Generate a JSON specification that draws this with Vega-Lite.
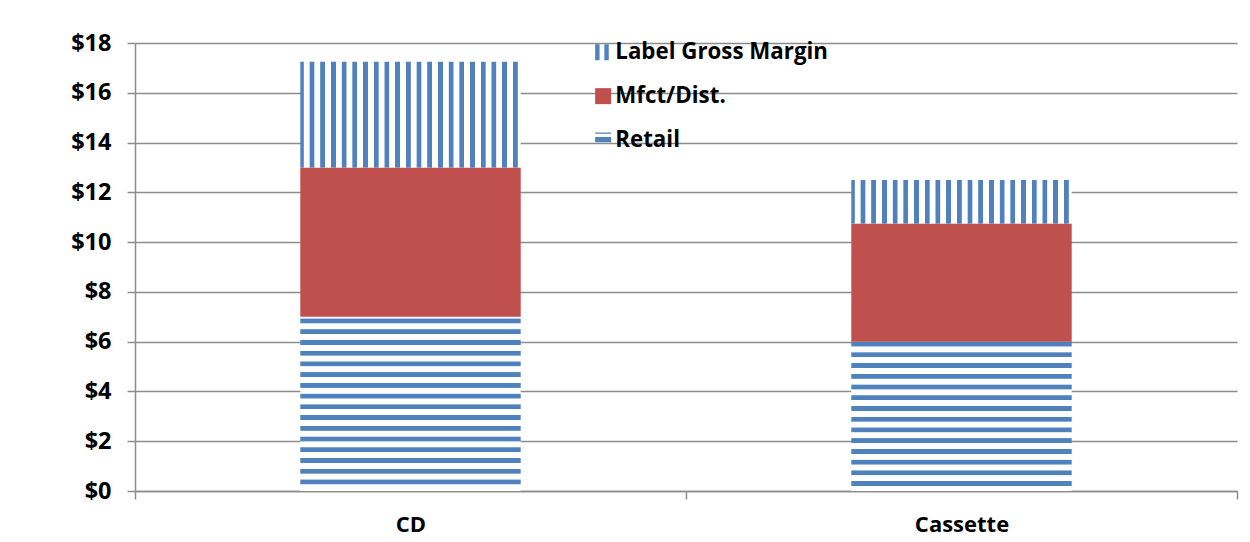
{
  "$schema": "https://vega.github.io/schema/vega-lite/v6.json",
  "width": 1102,
  "height": 448,
  "autosize": {"type": "none"},
  "padding": {"left": 135, "top": 43, "right": 13, "bottom": 51},
  "background": "white",
  "config": {"font": "Open Sans", "view": {"stroke": null}},
  "data": {
    "values": [
      {"product": "CD", "component": "Retail", "value": 7},
      {"product": "CD", "component": "Mfct/Dist.", "value": 6},
      {"product": "CD", "component": "Label Gross Margin", "value": 4.25},
      {"product": "Cassette", "component": "Retail", "value": 6},
      {"product": "Cassette", "component": "Mfct/Dist.", "value": 4.75},
      {"product": "Cassette", "component": "Label Gross Margin", "value": 1.75}
    ]
  },
  "layer": [
    {
      "mark": {"type": "bar", "width": {"band": 0.4}},
      "encoding": {
        "x": {
          "field": "product", "type": "nominal", "sort": ["CD", "Cassette"],
          "scale": {"paddingInner": 0, "paddingOuter": 0},
          "axis": {
            "title": null, "labelAngle": 0, "tickBand": "extent", "tickSize": 8,
            "tickColor": "#8C8C8C", "tickWidth": 1.5, "domainColor": "#8C8C8C", "domainWidth": 1.5,
            "labelFont": "Open Sans", "labelFontSize": 22, "labelFontWeight": "bold", "labelColor": "#000000",
            "labelPadding": 15, "grid": false
          }
        },
        "y": {
          "field": "value", "type": "quantitative", "stack": "zero",
          "scale": {"domain": [0, 18], "nice": false},
          "axis": {
            "title": null, "values": [0, 2, 4, 6, 8, 10, 12, 14, 16, 18], "labelExpr": "'$' + datum.value",
            "grid": true, "gridColor": "#8C8C8C", "gridWidth": 1.5,
            "tickSize": 8, "tickColor": "#8C8C8C", "tickWidth": 1.5,
            "domainColor": "#8C8C8C", "domainWidth": 1.5,
            "labelFont": "Open Sans", "labelFontSize": 23.5, "labelFontWeight": "bold", "labelColor": "#000000",
            "labelPadding": 16
          }
        },
        "detail": {"field": "component", "type": "nominal"},
        "order": {"field": "component", "sort": "descending"},
        "fill": {
          "condition": [
            {
              "test": "datum.component === 'Retail' && datum.product === 'CD'",
              "value": {"gradient": "linear", "x1": 0, "y1": 0, "x2": 0, "y2": 1, "stops": [
                {"offset": 0.0086, "color": "#FFFFFF"}, {"offset": 0.0121, "color": "#4F81BD"}, {"offset": 0.0362, "color": "#4F81BD"}, {"offset": 0.0396, "color": "#FFFFFF"},
                {"offset": 0.0702, "color": "#FFFFFF"}, {"offset": 0.0737, "color": "#4F81BD"}, {"offset": 0.0978, "color": "#4F81BD"}, {"offset": 0.1012, "color": "#FFFFFF"},
                {"offset": 0.1318, "color": "#FFFFFF"}, {"offset": 0.1353, "color": "#4F81BD"}, {"offset": 0.1594, "color": "#4F81BD"}, {"offset": 0.1628, "color": "#FFFFFF"},
                {"offset": 0.1934, "color": "#FFFFFF"}, {"offset": 0.1969, "color": "#4F81BD"}, {"offset": 0.2210, "color": "#4F81BD"}, {"offset": 0.2244, "color": "#FFFFFF"},
                {"offset": 0.2550, "color": "#FFFFFF"}, {"offset": 0.2585, "color": "#4F81BD"}, {"offset": 0.2826, "color": "#4F81BD"}, {"offset": 0.2859, "color": "#FFFFFF"},
                {"offset": 0.3166, "color": "#FFFFFF"}, {"offset": 0.3201, "color": "#4F81BD"}, {"offset": 0.3442, "color": "#4F81BD"}, {"offset": 0.3475, "color": "#FFFFFF"},
                {"offset": 0.3782, "color": "#FFFFFF"}, {"offset": 0.3817, "color": "#4F81BD"}, {"offset": 0.4057, "color": "#4F81BD"}, {"offset": 0.4091, "color": "#FFFFFF"},
                {"offset": 0.4398, "color": "#FFFFFF"}, {"offset": 0.4433, "color": "#4F81BD"}, {"offset": 0.4673, "color": "#4F81BD"}, {"offset": 0.4707, "color": "#FFFFFF"},
                {"offset": 0.5014, "color": "#FFFFFF"}, {"offset": 0.5049, "color": "#4F81BD"}, {"offset": 0.5289, "color": "#4F81BD"}, {"offset": 0.5323, "color": "#FFFFFF"},
                {"offset": 0.5630, "color": "#FFFFFF"}, {"offset": 0.5665, "color": "#4F81BD"}, {"offset": 0.5905, "color": "#4F81BD"}, {"offset": 0.5939, "color": "#FFFFFF"},
                {"offset": 0.6246, "color": "#FFFFFF"}, {"offset": 0.6281, "color": "#4F81BD"}, {"offset": 0.6521, "color": "#4F81BD"}, {"offset": 0.6555, "color": "#FFFFFF"},
                {"offset": 0.6862, "color": "#FFFFFF"}, {"offset": 0.6897, "color": "#4F81BD"}, {"offset": 0.7137, "color": "#4F81BD"}, {"offset": 0.7171, "color": "#FFFFFF"},
                {"offset": 0.7478, "color": "#FFFFFF"}, {"offset": 0.7513, "color": "#4F81BD"}, {"offset": 0.7753, "color": "#4F81BD"}, {"offset": 0.7787, "color": "#FFFFFF"},
                {"offset": 0.8094, "color": "#FFFFFF"}, {"offset": 0.8129, "color": "#4F81BD"}, {"offset": 0.8369, "color": "#4F81BD"}, {"offset": 0.8403, "color": "#FFFFFF"},
                {"offset": 0.8710, "color": "#FFFFFF"}, {"offset": 0.8744, "color": "#4F81BD"}, {"offset": 0.8985, "color": "#4F81BD"}, {"offset": 0.9019, "color": "#FFFFFF"},
                {"offset": 0.9326, "color": "#FFFFFF"}, {"offset": 0.9360, "color": "#4F81BD"}, {"offset": 0.9601, "color": "#4F81BD"}, {"offset": 0.9635, "color": "#FFFFFF"},
                {"offset": 1, "color": "#FFFFFF"}
              ]}
            },
            {
              "test": "datum.component === 'Retail'",
              "value": {"gradient": "linear", "x1": 0, "y1": 0, "x2": 0, "y2": 1, "stops": [
                {"offset": 0, "color": "#4F81BD"}, {"offset": 0.0302, "color": "#4F81BD"}, {"offset": 0.0341, "color": "#FFFFFF"},
                {"offset": 0.0699, "color": "#FFFFFF"}, {"offset": 0.0739, "color": "#4F81BD"}, {"offset": 0.1021, "color": "#4F81BD"}, {"offset": 0.1060, "color": "#FFFFFF"},
                {"offset": 0.1417, "color": "#FFFFFF"}, {"offset": 0.1458, "color": "#4F81BD"}, {"offset": 0.1739, "color": "#4F81BD"}, {"offset": 0.1779, "color": "#FFFFFF"},
                {"offset": 0.2136, "color": "#FFFFFF"}, {"offset": 0.2176, "color": "#4F81BD"}, {"offset": 0.2458, "color": "#4F81BD"}, {"offset": 0.2497, "color": "#FFFFFF"},
                {"offset": 0.2855, "color": "#FFFFFF"}, {"offset": 0.2895, "color": "#4F81BD"}, {"offset": 0.3177, "color": "#4F81BD"}, {"offset": 0.3216, "color": "#FFFFFF"},
                {"offset": 0.3573, "color": "#FFFFFF"}, {"offset": 0.3614, "color": "#4F81BD"}, {"offset": 0.3895, "color": "#4F81BD"}, {"offset": 0.3935, "color": "#FFFFFF"},
                {"offset": 0.4292, "color": "#FFFFFF"}, {"offset": 0.4332, "color": "#4F81BD"}, {"offset": 0.4614, "color": "#4F81BD"}, {"offset": 0.4653, "color": "#FFFFFF"},
                {"offset": 0.5011, "color": "#FFFFFF"}, {"offset": 0.5051, "color": "#4F81BD"}, {"offset": 0.5333, "color": "#4F81BD"}, {"offset": 0.5372, "color": "#FFFFFF"},
                {"offset": 0.5729, "color": "#FFFFFF"}, {"offset": 0.5770, "color": "#4F81BD"}, {"offset": 0.6051, "color": "#4F81BD"}, {"offset": 0.6091, "color": "#FFFFFF"},
                {"offset": 0.6448, "color": "#FFFFFF"}, {"offset": 0.6489, "color": "#4F81BD"}, {"offset": 0.6770, "color": "#4F81BD"}, {"offset": 0.6809, "color": "#FFFFFF"},
                {"offset": 0.7167, "color": "#FFFFFF"}, {"offset": 0.7207, "color": "#4F81BD"}, {"offset": 0.7489, "color": "#4F81BD"}, {"offset": 0.7528, "color": "#FFFFFF"},
                {"offset": 0.7885, "color": "#FFFFFF"}, {"offset": 0.7926, "color": "#4F81BD"}, {"offset": 0.8207, "color": "#4F81BD"}, {"offset": 0.8247, "color": "#FFFFFF"},
                {"offset": 0.8604, "color": "#FFFFFF"}, {"offset": 0.8645, "color": "#4F81BD"}, {"offset": 0.8926, "color": "#4F81BD"}, {"offset": 0.8966, "color": "#FFFFFF"},
                {"offset": 0.9323, "color": "#FFFFFF"}, {"offset": 0.9363, "color": "#4F81BD"}, {"offset": 0.9645, "color": "#4F81BD"}, {"offset": 0.9684, "color": "#FFFFFF"},
                {"offset": 1, "color": "#FFFFFF"}
              ]}
            },
            {
              "test": "datum.component === 'Label Gross Margin'",
              "value": {"gradient": "linear", "x1": 0, "y1": 0, "x2": 1, "y2": 0, "stops": [
                {"offset": 0, "color": "#4F81BD"}, {"offset": 0.0140, "color": "#4F81BD"}, {"offset": 0.0168, "color": "#FFFFFF"},
                {"offset": 0.0408, "color": "#FFFFFF"}, {"offset": 0.0436, "color": "#4F81BD"}, {"offset": 0.0626, "color": "#4F81BD"}, {"offset": 0.0653, "color": "#FFFFFF"},
                {"offset": 0.0894, "color": "#FFFFFF"}, {"offset": 0.0921, "color": "#4F81BD"}, {"offset": 0.1111, "color": "#4F81BD"}, {"offset": 0.1139, "color": "#FFFFFF"},
                {"offset": 0.1379, "color": "#FFFFFF"}, {"offset": 0.1407, "color": "#4F81BD"}, {"offset": 0.1597, "color": "#4F81BD"}, {"offset": 0.1624, "color": "#FFFFFF"},
                {"offset": 0.1865, "color": "#FFFFFF"}, {"offset": 0.1892, "color": "#4F81BD"}, {"offset": 0.2082, "color": "#4F81BD"}, {"offset": 0.2110, "color": "#FFFFFF"},
                {"offset": 0.2350, "color": "#FFFFFF"}, {"offset": 0.2378, "color": "#4F81BD"}, {"offset": 0.2568, "color": "#4F81BD"}, {"offset": 0.2595, "color": "#FFFFFF"},
                {"offset": 0.2836, "color": "#FFFFFF"}, {"offset": 0.2863, "color": "#4F81BD"}, {"offset": 0.3053, "color": "#4F81BD"}, {"offset": 0.3081, "color": "#FFFFFF"},
                {"offset": 0.3321, "color": "#FFFFFF"}, {"offset": 0.3349, "color": "#4F81BD"}, {"offset": 0.3539, "color": "#4F81BD"}, {"offset": 0.3566, "color": "#FFFFFF"},
                {"offset": 0.3807, "color": "#FFFFFF"}, {"offset": 0.3834, "color": "#4F81BD"}, {"offset": 0.4024, "color": "#4F81BD"}, {"offset": 0.4052, "color": "#FFFFFF"},
                {"offset": 0.4292, "color": "#FFFFFF"}, {"offset": 0.4320, "color": "#4F81BD"}, {"offset": 0.4510, "color": "#4F81BD"}, {"offset": 0.4537, "color": "#FFFFFF"},
                {"offset": 0.4778, "color": "#FFFFFF"}, {"offset": 0.4805, "color": "#4F81BD"}, {"offset": 0.4995, "color": "#4F81BD"}, {"offset": 0.5023, "color": "#FFFFFF"},
                {"offset": 0.5263, "color": "#FFFFFF"}, {"offset": 0.5291, "color": "#4F81BD"}, {"offset": 0.5481, "color": "#4F81BD"}, {"offset": 0.5508, "color": "#FFFFFF"},
                {"offset": 0.5749, "color": "#FFFFFF"}, {"offset": 0.5776, "color": "#4F81BD"}, {"offset": 0.5966, "color": "#4F81BD"}, {"offset": 0.5994, "color": "#FFFFFF"},
                {"offset": 0.6234, "color": "#FFFFFF"}, {"offset": 0.6262, "color": "#4F81BD"}, {"offset": 0.6452, "color": "#4F81BD"}, {"offset": 0.6479, "color": "#FFFFFF"},
                {"offset": 0.6720, "color": "#FFFFFF"}, {"offset": 0.6747, "color": "#4F81BD"}, {"offset": 0.6937, "color": "#4F81BD"}, {"offset": 0.6965, "color": "#FFFFFF"},
                {"offset": 0.7205, "color": "#FFFFFF"}, {"offset": 0.7233, "color": "#4F81BD"}, {"offset": 0.7423, "color": "#4F81BD"}, {"offset": 0.7450, "color": "#FFFFFF"},
                {"offset": 0.7690, "color": "#FFFFFF"}, {"offset": 0.7718, "color": "#4F81BD"}, {"offset": 0.7908, "color": "#4F81BD"}, {"offset": 0.7935, "color": "#FFFFFF"},
                {"offset": 0.8176, "color": "#FFFFFF"}, {"offset": 0.8203, "color": "#4F81BD"}, {"offset": 0.8394, "color": "#4F81BD"}, {"offset": 0.8421, "color": "#FFFFFF"},
                {"offset": 0.8661, "color": "#FFFFFF"}, {"offset": 0.8689, "color": "#4F81BD"}, {"offset": 0.8879, "color": "#4F81BD"}, {"offset": 0.8906, "color": "#FFFFFF"},
                {"offset": 0.9147, "color": "#FFFFFF"}, {"offset": 0.9174, "color": "#4F81BD"}, {"offset": 0.9364, "color": "#4F81BD"}, {"offset": 0.9392, "color": "#FFFFFF"},
                {"offset": 0.9632, "color": "#FFFFFF"}, {"offset": 0.9660, "color": "#4F81BD"}, {"offset": 0.9850, "color": "#4F81BD"}, {"offset": 0.9877, "color": "#FFFFFF"},
                {"offset": 1, "color": "#FFFFFF"}
              ]}
            }
          ],
          "value": "#C0504D"
        }
      }
    },
    {
      "mark": {"type": "point", "filled": true, "opacity": 0},
      "encoding": {
        "color": {
          "field": "component", "type": "nominal",
          "scale": {"domain": ["Label Gross Margin", "Mfct/Dist.", "Retail"], "range": ["#4F81BD", "#C0504D", "#4F81BD"]},
          "legend": {
            "title": null, "orient": "none", "legendX": 457, "legendY": -2, "direction": "vertical",
            "padding": 0, "symbolSize": 256, "symbolOpacity": 1, "symbolStrokeWidth": 0,
            "labelFont": "Open Sans", "labelFontSize": 22.3, "labelFontWeight": "bold", "labelColor": "#000000",
            "labelOffset": 1, "labelLimit": 400, "rowPadding": 21
          }
        },
        "shape": {
          "field": "component", "type": "nominal",
          "scale": {
            "domain": ["Label Gross Margin", "Mfct/Dist.", "Retail"],
            "range": [
              "M-1,-1H-0.45V1H-1Z M0.15,-1H0.7V1H0.15Z",
              "square",
              "M-1,-0.95H1V-0.8H-1Z M-1,-0.4H1V0.25H-1Z"
            ]
          },
          "legend": {
            "title": null, "orient": "none", "legendX": 457, "legendY": -2, "direction": "vertical",
            "padding": 0, "symbolSize": 256, "symbolOpacity": 1, "symbolStrokeWidth": 0,
            "labelFont": "Open Sans", "labelFontSize": 22.3, "labelFontWeight": "bold", "labelColor": "#000000",
            "labelOffset": 1, "labelLimit": 400, "rowPadding": 21
          }
        }
      }
    }
  ]
}
